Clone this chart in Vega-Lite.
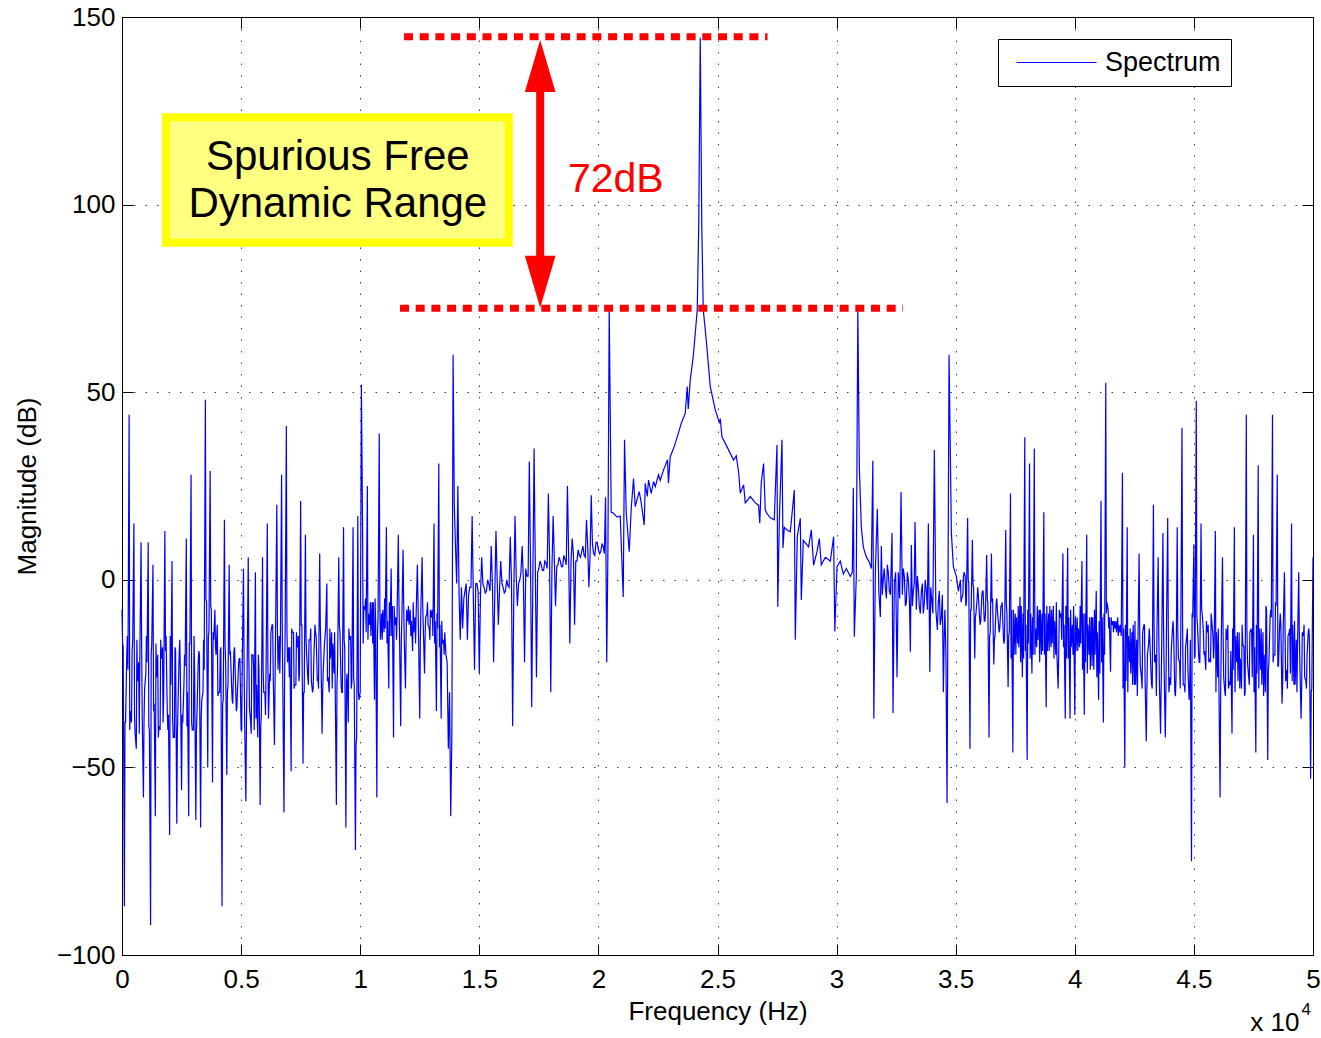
{
  "$schema": "https://vega.github.io/schema/vega-lite/v6.json",
  "width": 1191,
  "height": 938,
  "autosize": {"type": "none"},
  "padding": {"left": 122, "top": 17, "right": 8, "bottom": 83},
  "background": "#ffffff",
  "config": {
    "view": {"stroke": "#000000", "strokeWidth": 1},
    "font": "Liberation Sans",
    "axis": {
      "labelFont": "Liberation Sans", "labelFontSize": 26, "labelColor": "#000000",
      "titleFont": "Liberation Sans", "titleFontSize": 26, "titleFontWeight": "normal", "titleColor": "#000000",
      "domain": false, "tickColor": "#000000", "tickSize": -11, "tickWidth": 1,
      "gridColor": "#000000", "gridDash": [1.5, 10], "gridOpacity": 0.75, "gridWidth": 1
    }
  },
  "resolve": {"axis": {"x": "independent", "y": "independent"}},
  "layer": [
    {
      "layer": [
        {
          "data": {"values": [
{"f":0,"m":-8},{"f":100,"m":-87},{"f":200,"m":-20},{"f":300,"m":44},{"f":400,"m":-38},{"f":500,"m":15},{"f":600,"m":-45},{"f":700,"m":-22},{"f":800,"m":10},{"f":900,"m":-58},
{"f":1000,"m":-25},{"f":1100,"m":10},{"f":1200,"m":-92},{"f":1300,"m":4},{"f":1400,"m":-63},{"f":1500,"m":-20},{"f":1600,"m":-40},{"f":1700,"m":-18},{"f":1800,"m":13},{"f":1900,"m":-35},
{"f":2000,"m":-68},{"f":2100,"m":5},{"f":2200,"m":-42},{"f":2300,"m":-65},{"f":2400,"m":-20},{"f":2500,"m":-56},{"f":2600,"m":-28},{"f":2700,"m":11},{"f":2800,"m":-63},{"f":2900,"m":28},
{"f":3000,"m":-40},{"f":3100,"m":-64},{"f":3200,"m":-22},{"f":3300,"m":-66},{"f":3400,"m":-30},{"f":3500,"m":48},{"f":3600,"m":-50},{"f":3700,"m":29},{"f":3800,"m":-54},{"f":3900,"m":-8},
{"f":4000,"m":-12},{"f":4100,"m":-30},{"f":4200,"m":-87},{"f":4300,"m":16},{"f":4400,"m":-52},{"f":4500,"m":4},{"f":4600,"m":-28},{"f":4700,"m":-19},{"f":4800,"m":-35},{"f":4900,"m":-22},
{"f":5000,"m":-40},{"f":5100,"m":3},{"f":5200,"m":-59},{"f":5300,"m":6},{"f":5400,"m":-38},{"f":5500,"m":-20},{"f":5600,"m":2},{"f":5700,"m":-42},{"f":5800,"m":-60},{"f":5900,"m":6},
{"f":6000,"m":-30},{"f":6100,"m":15},{"f":6200,"m":-25},{"f":6300,"m":-12},{"f":6400,"m":-44},{"f":6500,"m":20},{"f":6600,"m":-15},{"f":6700,"m":28},{"f":6800,"m":-62},{"f":6900,"m":41},
{"f":7000,"m":-18},{"f":7100,"m":-51},{"f":7200,"m":-14},{"f":7300,"m":-28},{"f":7400,"m":-15},{"f":7500,"m":21},{"f":7600,"m":-49},{"f":7700,"m":12},{"f":7800,"m":-26},{"f":7900,"m":-16},
{"f":8000,"m":-30},{"f":8100,"m":-12},{"f":8200,"m":-27},{"f":8300,"m":7},{"f":8400,"m":-41},{"f":8500,"m":-17},{"f":8600,"m":-1},{"f":8700,"m":-30},{"f":8800,"m":-14},{"f":8900,"m":-25},
{"f":9000,"m":-60},{"f":9100,"m":6},{"f":9200,"m":-28},{"f":9300,"m":14},{"f":9400,"m":-66},{"f":9500,"m":-38},{"f":9600,"m":-15},{"f":9700,"m":14},{"f":9800,"m":-72},{"f":9900,"m":17},
{"f":10000,"m":-30},{"f":10050,"m":52},{"f":10100,"m":13},{"f":10200,"m":-8},{"f":10300,"m":25},{"f":10400,"m":-12},{"f":10500,"m":-6},{"f":10600,"m":-32},{"f":10700,"m":-58},{"f":10800,"m":39},{"f":10900,"m":-9},
{"f":11000,"m":-14},{"f":11100,"m":14},{"f":11200,"m":-29},{"f":11300,"m":3},{"f":11400,"m":-42},{"f":11500,"m":-10},{"f":11600,"m":12},{"f":11700,"m":-39},{"f":11800,"m":8},{"f":11900,"m":-29},
{"f":12000,"m":-11},{"f":12100,"m":-8},{"f":12200,"m":-19},{"f":12300,"m":-10},{"f":12400,"m":4},{"f":12500,"m":-37},{"f":12600,"m":6},{"f":12700,"m":-25},{"f":12800,"m":-9},{"f":12900,"m":-13},
{"f":13000,"m":-10},{"f":13100,"m":15},{"f":13200,"m":-35},{"f":13300,"m":31},{"f":13400,"m":-37},{"f":13500,"m":-16},{"f":13600,"m":-20},{"f":13700,"m":-45},{"f":13800,"m":-63},{"f":13900,"m":60},
{"f":14000,"m":9},{"f":14100,"m":25},{"f":14200,"m":-16},{"f":14300,"m":-13},{"f":14400,"m":-3},{"f":14500,"m":-16},{"f":14600,"m":-2},{"f":14700,"m":17},{"f":14800,"m":-24},{"f":14900,"m":-1},
{"f":15000,"m":-25},{"f":15100,"m":6},{"f":15200,"m":-2},{"f":15300,"m":-3},{"f":15400,"m":-1},{"f":15500,"m":9},{"f":15600,"m":-22},{"f":15700,"m":13},{"f":15800,"m":-12},{"f":15900,"m":5},
{"f":16000,"m":-2},{"f":16100,"m":-3},{"f":16200,"m":-1.5},{"f":16300,"m":11.5},{"f":16400,"m":-39},{"f":16500,"m":17},{"f":16600,"m":-7},{"f":16700,"m":0},{"f":16800,"m":9},{"f":16900,"m":-22},
{"f":17000,"m":1},{"f":17100,"m":31.5},{"f":17200,"m":-34},{"f":17300,"m":35},{"f":17400,"m":-26},{"f":17500,"m":3},{"f":17600,"m":4},{"f":17700,"m":2.5},{"f":17800,"m":4.5},{"f":17900,"m":23},
{"f":18000,"m":-30},{"f":18100,"m":17},{"f":18200,"m":-7},{"f":18300,"m":4},{"f":18400,"m":5},{"f":18500,"m":3.5},{"f":18600,"m":5.5},{"f":18700,"m":25},{"f":18800,"m":-17},{"f":18900,"m":11},
{"f":19000,"m":-12},{"f":19100,"m":5},{"f":19200,"m":6.5},{"f":19300,"m":7.5},{"f":19400,"m":6.5},{"f":19500,"m":16},{"f":19600,"m":-2},{"f":19700,"m":22.5},{"f":19800,"m":7},{"f":19900,"m":10},
{"f":20000,"m":8},{"f":20100,"m":7.5},{"f":20200,"m":9},{"f":20300,"m":22},{"f":20350,"m":-22},{"f":20400,"m":8},
{"f":20454,"m":72.2},{"f":20538,"m":18},{"f":20622,"m":17.8},{"f":20790,"m":16.7},{"f":20916,"m":17},{"f":21042,"m":-4.6},{"f":21097,"m":37.3},{"f":21168,"m":18},{"f":21294,"m":7.5},{"f":21378,"m":19},
{"f":21475,"m":27},{"f":21546,"m":19.5},{"f":21714,"m":23.5},{"f":21798,"m":20.5},{"f":21924,"m":14.6},{"f":21966,"m":25.7},{"f":22050,"m":22.2},{"f":22105,"m":26.6},{"f":22218,"m":23},{"f":22315,"m":26.2},
{"f":22386,"m":24.8},{"f":22525,"m":28},{"f":22596,"m":26.5},{"f":22735,"m":29.3},{"f":22903,"m":32},{"f":22940,"m":25.8},{"f":23016,"m":32.8},{"f":23184,"m":35.5},{"f":23310,"m":38.1},{"f":23478,"m":41.7},
{"f":23646,"m":44.4},{"f":23730,"m":51.5},{"f":23772,"m":45.5},{"f":23856,"m":53.3},{"f":23982,"m":59.5},{"f":24066,"m":65.7},{"f":24150,"m":72},{"f":24213,"m":95},{"f":24276,"m":144.5},{"f":24339,"m":95},
{"f":24402,"m":72},{"f":24528,"m":63.9},{"f":24696,"m":51.5},{"f":24906,"m":45.3},{"f":25087,"m":41.7},{"f":25116,"m":43},{"f":25187,"m":38.1},{"f":25397,"m":35.5},{"f":25675,"m":31.9},{"f":25788,"m":33},
{"f":25885,"m":28.8},{"f":25956,"m":23.1},{"f":26095,"m":25.3},{"f":26166,"m":20.5},{"f":26376,"m":22.2},{"f":26586,"m":20.5},{"f":26725,"m":19.9},{"f":26775,"m":15.1},{"f":26838,"m":25.9},{"f":26935,"m":31},
{"f":27006,"m":18.5},{"f":27077,"m":17.7},{"f":27216,"m":16.5},{"f":27384,"m":16},{"f":27497,"m":35.9},{"f":27531,"m":-7.2},{"f":27594,"m":15.5},{"f":27707,"m":37.3},{"f":27749,"m":8.5},{"f":27804,"m":14},
{"f":27917,"m":13.3},{"f":28056,"m":12.8},{"f":28224,"m":23.9},{"f":28266,"m":-16},{"f":28350,"m":11.5},{"f":28476,"m":16.4},{"f":28518,"m":-5.4},{"f":28602,"m":10.5},{"f":28825,"m":8.8},{"f":28938,"m":13.3},
{"f":29035,"m":3.9},{"f":29177,"m":7.5},{"f":29274,"m":11},{"f":29358,"m":4},{"f":29526,"m":6},{"f":29736,"m":5},{"f":29875,"m":11.5},{"f":29925,"m":-13.8},{"f":30017,"m":3.5},{"f":30156,"m":5},
{"f":30282,"m":1.5},{"f":30408,"m":3},{"f":30576,"m":0.9},{"f":30660,"m":2},{"f":30702,"m":24.5},{"f":30744,"m":-15.2},{"f":30828,"m":1},{"f":30891,"m":72.2},{"f":30954,"m":30},{"f":31038,"m":14},
{"f":31122,"m":8.7},{"f":31248,"m":6.1},{"f":31374,"m":4.7},{"f":31458,"m":3},{"f":31521,"m":31.7},{"f":31563,"m":-37},{"f":31626,"m":2},{"f":31710,"m":18.9},{"f":31773,"m":-3},{"f":31836,"m":-9.9},
{"f":31878,"m":9},{"f":31962,"m":0.5},{"f":32046,"m":-2},{"f":32130,"m":4},{"f":32214,"m":-3},{"f":32327,"m":12.5},{"f":32369,"m":-35.5},{"f":32424,"m":-1},{"f":32537,"m":-26},{"f":32592,"m":2},
{"f":32705,"m":23.4},{"f":32760,"m":-4},{"f":32844,"m":1},{"f":32928,"m":-6},{"f":33012,"m":0},{"f":33096,"m":-19.2},{"f":33138,"m":9.3},{"f":33222,"m":-3},{"f":33293,"m":15.4},{"f":33348,"m":-8},
{"f":33432,"m":-2},{"f":33516,"m":-9},{"f":33600,"m":-1},{"f":33684,"m":-6},{"f":33768,"m":-3},{"f":33852,"m":15},{"f":33915,"m":-24.6},{"f":33978,"m":-4},{"f":34104,"m":34.6},{"f":34167,"m":-8},
{"f":34230,"m":-13.4},{"f":34314,"m":-3},{"f":34398,"m":-10},{"f":34482,"m":-30},{"f":34545,"m":-8},{"f":34637,"m":-59.5},{"f":34721,"m":60},{"f":34818,"m":12.5},{"f":34902,"m":3.5},{"f":35028,"m":0.9},{"f":35112,"m":-3},
{"f":35200,"m":0},{"f":35300,"m":-4},{"f":35400,"m":1},{"f":35500,"m":16.5},{"f":35600,"m":-45},{"f":35700,"m":10.6},{"f":35800,"m":-21},{"f":35900,"m":-5},
{"f":36000,"m":-10},{"f":36100,"m":-4},{"f":36200,"m":-11},{"f":36300,"m":6.6},{"f":36400,"m":-42},{"f":36500,"m":7},{"f":36600,"m":-22.6},{"f":36700,"m":-6},{"f":36800,"m":-12},{"f":36900,"m":-7},
{"f":37000,"m":-15},{"f":37100,"m":13.3},{"f":37200,"m":-28.6},{"f":37300,"m":23},{"f":37400,"m":-46},{"f":37500,"m":-9},{"f":37600,"m":-17},{"f":37700,"m":-4.5},{"f":37800,"m":-26},{"f":37900,"m":38},
{"f":38000,"m":-48},{"f":38100,"m":31},{"f":38200,"m":-25},{"f":38300,"m":35},{"f":38400,"m":-18},{"f":38500,"m":-8},{"f":38600,"m":-20},{"f":38700,"m":18},{"f":38800,"m":-34},{"f":38900,"m":-9},
{"f":39000,"m":-18},{"f":39100,"m":-7},{"f":39200,"m":-20},{"f":39300,"m":-29},{"f":39400,"m":-10},{"f":39500,"m":7},{"f":39600,"m":-37},{"f":39700,"m":8.5},{"f":39800,"m":-37},{"f":39900,"m":-12},
{"f":40000,"m":-36},{"f":40100,"m":-10},{"f":40200,"m":-18},{"f":40300,"m":5},{"f":40400,"m":-36},{"f":40500,"m":12},{"f":40600,"m":-20},{"f":40700,"m":-10},{"f":40800,"m":-24},{"f":40900,"m":-3},
{"f":41000,"m":-32},{"f":41100,"m":21},{"f":41200,"m":-38},{"f":41300,"m":52.5},{"f":41400,"m":-8},{"f":41500,"m":-24.5},{"f":41600,"m":-11},{"f":41700,"m":-13},{"f":41800,"m":-10},{"f":41900,"m":-14},
{"f":42000,"m":28.5},{"f":42100,"m":-50},{"f":42200,"m":14},{"f":42300,"m":-22},{"f":42400,"m":-14},{"f":42500,"m":-28},{"f":42600,"m":-16},{"f":42700,"m":7},{"f":42800,"m":-26},{"f":42900,"m":-12},
{"f":43000,"m":-43},{"f":43100,"m":-17},{"f":43200,"m":-25},{"f":43300,"m":20},{"f":43400,"m":-20},{"f":43500,"m":6},{"f":43600,"m":-41},{"f":43700,"m":12.5},{"f":43800,"m":-42},{"f":43900,"m":16.5},
{"f":44000,"m":-26},{"f":44100,"m":-13},{"f":44200,"m":-30},{"f":44300,"m":14},{"f":44400,"m":-22},{"f":44500,"m":40.5},{"f":44600,"m":-28},{"f":44700,"m":-15},{"f":44800,"m":-32},{"f":44900,"m":-75},
{"f":45000,"m":9.5},{"f":45100,"m":47.7},{"f":45200,"m":-20},{"f":45300,"m":15},{"f":45400,"m":-14},{"f":45500,"m":-24},{"f":45600,"m":-12},{"f":45700,"m":-22},{"f":45800,"m":-15},{"f":45900,"m":13},
{"f":46000,"m":-26},{"f":46100,"m":-58},{"f":46200,"m":6},{"f":46300,"m":-30},{"f":46400,"m":-16},{"f":46500,"m":-27},{"f":46600,"m":-41},{"f":46700,"m":14},{"f":46800,"m":-22},{"f":46900,"m":-14},
{"f":47000,"m":-29},{"f":47100,"m":-18},{"f":47200,"m":44},{"f":47300,"m":-26},{"f":47400,"m":-13},{"f":47500,"m":12},{"f":47600,"m":-46},{"f":47700,"m":30.5},{"f":47800,"m":-24},{"f":47900,"m":-14},
{"f":48000,"m":-30},{"f":48100,"m":-48},{"f":48200,"m":-10},{"f":48300,"m":44},{"f":48400,"m":-20},{"f":48500,"m":28},{"f":48600,"m":-12},{"f":48700,"m":-33},{"f":48800,"m":2},{"f":48900,"m":-24},
{"f":49000,"m":-14},{"f":49100,"m":15},{"f":49200,"m":-28},{"f":49300,"m":-16},{"f":49400,"m":2},{"f":49500,"m":-37},{"f":49600,"m":-15},{"f":49700,"m":-27},{"f":49800,"m":-14},{"f":49900,"m":-53},
{"f":50000,"m":6},
{"f":50,"m":-18},{"f":150,"m":-38},{"f":250,"m":-24},{"f":350,"m":-35},{"f":450,"m":-16},{"f":550,"m":-41},{"f":650,"m":-27},{"f":750,"m":-20},{"f":850,"m":-37},{"f":950,"m":-29},
{"f":1050,"m":-22},{"f":1150,"m":-40},{"f":1250,"m":-17},{"f":1350,"m":-33},{"f":1450,"m":-26},{"f":1550,"m":-39},{"f":1650,"m":-21},{"f":1750,"m":-31},{"f":1850,"m":-15},{"f":1950,"m":-36},
{"f":2050,"m":-28},{"f":2150,"m":-42},{"f":2250,"m":-19},{"f":2350,"m":-34},{"f":2450,"m":-25},{"f":2550,"m":-38},{"f":2650,"m":-23},{"f":2750,"m":-30},{"f":2850,"m":-17},{"f":2950,"m":-40},
{"f":3050,"m":-26},{"f":3150,"m":-35},{"f":3250,"m":-20},{"f":3350,"m":-32},{"f":3450,"m":-24},
{"f":3550,"m":-6},{"f":3650,"m":-14},{"f":3750,"m":-8},{"f":3850,"m":-16},
{"f":3950,"m":-20},{"f":4050,"m":-30},{"f":4150,"m":-18},{"f":4250,"m":-32},{"f":4350,"m":-22},{"f":4450,"m":-28},{"f":4550,"m":-19},{"f":4650,"m":-33},{"f":4750,"m":-24},{"f":4850,"m":-29},{"f":4950,"m":-21},
{"f":5050,"m":-22},{"f":5150,"m":-38},{"f":5250,"m":-26},{"f":5350,"m":-34},{"f":5450,"m":-20},{"f":5550,"m":-40},{"f":5650,"m":-28},{"f":5750,"m":-24},{"f":5850,"m":-36},{"f":5950,"m":-30},{"f":6050,"m":-23},{"f":6150,"m":-37},
{"f":6250,"m":-14},{"f":6350,"m":-26},{"f":6450,"m":-12},{"f":6550,"m":-24},{"f":6650,"m":-16},{"f":6750,"m":-28},{"f":6850,"m":-13},{"f":6950,"m":-22},{"f":7050,"m":-18},
{"f":7150,"m":-14},{"f":7250,"m":-28},{"f":7350,"m":-18},{"f":7450,"m":-25},{"f":7550,"m":-12},{"f":7650,"m":-30},{"f":7750,"m":-20},{"f":7850,"m":-16},{"f":7950,"m":-27},{"f":8050,"m":-22},
{"f":8150,"m":-15},{"f":8250,"m":-29},{"f":8350,"m":-19},{"f":8450,"m":-24},{"f":8550,"m":-13},{"f":8650,"m":-26},{"f":8750,"m":-21},{"f":8850,"m":-17},{"f":8950,"m":-28},{"f":9050,"m":-23},
{"f":9150,"m":-14},{"f":9250,"m":-30},{"f":9350,"m":-18},{"f":9450,"m":-25},{"f":9550,"m":-16},{"f":9650,"m":-27},
{"f":9750,"m":-28},{"f":9850,"m":-42},{"f":9950,"m":-32},
{"f":10150,"m":-7},{"f":10250,"m":-14},{"f":10350,"m":-9},{"f":10450,"m":-15},{"f":10550,"m":-6},{"f":10650,"m":-12},{"f":10750,"m":-10},{"f":10850,"m":-16},{"f":10950,"m":-8},{"f":11050,"m":-13},
{"f":11150,"m":-11},{"f":11250,"m":-15},{"f":11350,"m":-7},{"f":11450,"m":-12},{"f":11550,"m":-9},{"f":11650,"m":-14},{"f":11750,"m":-10},{"f":11850,"m":-16},{"f":11950,"m":-8},{"f":12050,"m":-12},
{"f":12150,"m":-11},{"f":12250,"m":-14},{"f":12350,"m":-9},{"f":12450,"m":-15},{"f":12550,"m":-7},{"f":12650,"m":-13},{"f":12750,"m":-10},{"f":12850,"m":-12},{"f":12950,"m":-8},{"f":13050,"m":-15},
{"f":13150,"m":-11},{"f":13250,"m":-13},{"f":13350,"m":-12},{"f":13450,"m":-17},{"f":13550,"m":-14},
{"f":13650,"m":-22},{"f":13750,"m":-30},{"f":13850,"m":-40},
{"f":13950,"m":20},{"f":14050,"m":-1},{"f":14150,"m":-4},{"f":14250,"m":-2},{"f":14350,"m":-5},{"f":14450,"m":-1},{"f":14550,"m":-4},{"f":14650,"m":-2},{"f":14750,"m":-5},{"f":14850,"m":-1},
{"f":14950,"m":-3},{"f":15050,"m":-4},{"f":15150,"m":-1},{"f":15250,"m":-3.5},{"f":15350,"m":0},{"f":15450,"m":-3},{"f":15550,"m":-1},{"f":15650,"m":-4},{"f":15750,"m":0},{"f":15850,"m":-2.5},
{"f":15950,"m":-1},{"f":16050,"m":-3.5},{"f":16150,"m":0},{"f":16250,"m":-2},{"f":16350,"m":0},{"f":16450,"m":-3},{"f":16550,"m":1},{"f":16650,"m":-1},{"f":16750,"m":2},{"f":16850,"m":0},
{"f":16950,"m":3},{"f":17050,"m":1},{"f":17150,"m":4},{"f":17250,"m":1.5},{"f":17350,"m":4.5},{"f":17450,"m":2},{"f":17550,"m":5},{"f":17650,"m":2.5},{"f":17750,"m":5},{"f":17850,"m":3},
{"f":17950,"m":6},{"f":18050,"m":3},{"f":18150,"m":5.5},{"f":18250,"m":3.5},{"f":18350,"m":6},{"f":18450,"m":3.5},{"f":18550,"m":6.5},{"f":18650,"m":4},{"f":18750,"m":7},{"f":18850,"m":4.5},
{"f":18950,"m":7},{"f":19050,"m":5},{"f":19150,"m":8},{"f":19250,"m":6},{"f":19350,"m":9},{"f":19450,"m":6},{"f":19550,"m":9},{"f":19650,"m":6.5},{"f":19750,"m":9.5},{"f":19850,"m":6.5},
{"f":19950,"m":10},{"f":20050,"m":7},{"f":20150,"m":9.5},{"f":20250,"m":7},
{"f":31920,"m":-4},{"f":32000,"m":3},{"f":32090,"m":-5},{"f":32170,"m":2},{"f":32260,"m":-4},{"f":32480,"m":2},{"f":32650,"m":-5},{"f":32800,"m":3},{"f":32890,"m":-7},{"f":32970,"m":2},
{"f":33060,"m":-6},{"f":33180,"m":-7},{"f":33260,"m":-1},{"f":33390,"m":1},{"f":33470,"m":-7},{"f":33560,"m":-3},{"f":33640,"m":-9},{"f":33720,"m":0},{"f":33810,"m":-8},{"f":33950,"m":-2},
{"f":34040,"m":-9},{"f":34270,"m":-6},{"f":34350,"m":-12},{"f":34440,"m":-4},{"f":34520,"m":-14},{"f":34590,"m":-20},
{"f":35250,"m":-5},{"f":35350,"m":2},{"f":35450,"m":-6},{"f":35550,"m":-1},{"f":35650,"m":-8},{"f":35750,"m":-2},{"f":35850,"m":-9},{"f":35950,"m":-4},{"f":36050,"m":-11},{"f":36150,"m":-3},{"f":36250,"m":-9},
{"f":36350,"m":-6},{"f":36450,"m":-14},{"f":36550,"m":-5},{"f":36650,"m":-15},{"f":36750,"m":-8},{"f":36850,"m":-13},{"f":36950,"m":-6},{"f":37050,"m":-16},{"f":37150,"m":-9},{"f":37250,"m":-14},
{"f":37350,"m":-8},{"f":37450,"m":-20},{"f":37550,"m":-10},{"f":37650,"m":-18},{"f":37750,"m":-7},{"f":37850,"m":-21},{"f":37950,"m":-12},{"f":38050,"m":-17},{"f":38150,"m":-9},{"f":38250,"m":-20},{"f":38350,"m":-13},{"f":38450,"m":-16},{"f":38550,"m":-8},{"f":38650,"m":-19},
{"f":38750,"m":-9},{"f":38850,"m":-19},{"f":38950,"m":-7},{"f":39050,"m":-17},{"f":39150,"m":-11},{"f":39250,"m":-20},{"f":39350,"m":-8},{"f":39450,"m":-16},{"f":39550,"m":-12},{"f":39650,"m":-21},{"f":39750,"m":-10},{"f":39850,"m":-18},{"f":39950,"m":-7},{"f":40050,"m":-19},{"f":40150,"m":-13},{"f":40250,"m":-17},
{"f":40350,"m":-9},{"f":40450,"m":-22},{"f":40550,"m":-12},{"f":40650,"m":-24},{"f":40750,"m":-10},{"f":40850,"m":-20},{"f":40950,"m":-14},{"f":41050,"m":-25},
{"f":41150,"m":-10},{"f":41250,"m":-20},
{"f":41350,"m":-6},{"f":41450,"m":-10},{"f":41550,"m":-12},{"f":41650,"m":-11},{"f":41750,"m":-14},{"f":41850,"m":-12},{"f":41950,"m":-15},
{"f":42050,"m":-13},{"f":42150,"m":-27},{"f":42250,"m":-15},{"f":42350,"m":-25},{"f":42450,"m":-12},{"f":42550,"m":-28},{"f":42650,"m":-18},{"f":42750,"m":-23},{"f":42850,"m":-14},{"f":42950,"m":-26},
{"f":43050,"m":-20},{"f":43150,"m":-16},{"f":43250,"m":-29},{"f":43350,"m":-22},{"f":43450,"m":-13},{"f":43550,"m":-27},{"f":43650,"m":-17},{"f":43750,"m":-24},{"f":43850,"m":-12},{"f":43950,"m":-30},
{"f":44050,"m":-19},{"f":44150,"m":-15},{"f":44250,"m":-26},{"f":44350,"m":-21},{"f":44450,"m":-14},{"f":44550,"m":-28},{"f":44650,"m":-18},{"f":44750,"m":-24},{"f":44850,"m":-16},
{"f":44950,"m":-10},{"f":45050,"m":-20},{"f":45150,"m":-12},{"f":45250,"m":-22},{"f":45350,"m":-9},{"f":45450,"m":-19},{"f":45550,"m":-14},{"f":45650,"m":-21},{"f":45750,"m":-11},{"f":45850,"m":-18},
{"f":45950,"m":-14},{"f":46050,"m":-28},{"f":46150,"m":-16},{"f":46250,"m":-26},{"f":46350,"m":-13},{"f":46450,"m":-29},{"f":46550,"m":-19},{"f":46650,"m":-24},{"f":46750,"m":-15},{"f":46850,"m":-27},
{"f":46950,"m":-21},{"f":47050,"m":-17},{"f":47150,"m":-30},{"f":47250,"m":-22},{"f":47350,"m":-14},{"f":47450,"m":-26},{"f":47550,"m":-18},{"f":47650,"m":-25},{"f":47750,"m":-13},{"f":47850,"m":-28},{"f":47950,"m":-20},
{"f":48050,"m":-8},{"f":48150,"m":-22},{"f":48250,"m":-10},{"f":48350,"m":-20},{"f":48450,"m":-7},{"f":48550,"m":-23},{"f":48650,"m":-12},
{"f":48750,"m":-13},{"f":48850,"m":-27},{"f":48950,"m":-15},{"f":49050,"m":-25},{"f":49150,"m":-12},{"f":49250,"m":-28},{"f":49350,"m":-18},{"f":49450,"m":-23},{"f":49550,"m":-14},{"f":49650,"m":-26},{"f":49750,"m":-20},{"f":49850,"m":-16},{"f":49950,"m":-29},
{"f":25,"m":-17},{"f":125,"m":-38},{"f":225,"m":-15},{"f":325,"m":-40},{"f":425,"m":-19},{"f":525,"m":-36},{"f":625,"m":-16},{"f":725,"m":-41},{"f":825,"m":-18},{"f":925,"m":-37},
{"f":1025,"m":-15},{"f":1125,"m":-39},{"f":1225,"m":-20},{"f":1325,"m":-35},{"f":1425,"m":-17},{"f":1525,"m":-42},{"f":1625,"m":-16},{"f":1725,"m":-38},{"f":1825,"m":-19},{"f":1925,"m":-40},
{"f":2025,"m":-15},{"f":2125,"m":-37},{"f":2225,"m":-18},{"f":2325,"m":-41},{"f":2425,"m":-16},{"f":2525,"m":-36},{"f":2625,"m":-20},{"f":2725,"m":-39},{"f":2825,"m":-17},{"f":2925,"m":-38},
{"f":3025,"m":-15},{"f":3125,"m":-40},{"f":3225,"m":-19},{"f":3325,"m":-37},{"f":3425,"m":-16},
{"f":3525,"m":-5},{"f":3625,"m":-15},{"f":3725,"m":-7},{"f":3825,"m":-14},
{"f":3925,"m":-18},{"f":4025,"m":-31},{"f":4125,"m":-19},{"f":4225,"m":-33},{"f":4325,"m":-17},{"f":4425,"m":-30},{"f":4525,"m":-20},{"f":4625,"m":-32},{"f":4725,"m":-18},{"f":4825,"m":-34},{"f":4925,"m":-21},
{"f":5025,"m":-40},{"f":5125,"m":-22},{"f":5225,"m":-38},{"f":5325,"m":-21},{"f":5425,"m":-41},{"f":5525,"m":-23},{"f":5625,"m":-37},{"f":5725,"m":-20},{"f":5825,"m":-39},{"f":5925,"m":-24},{"f":6025,"m":-36},{"f":6125,"m":-22},
{"f":6225,"m":-27},{"f":6325,"m":-12},{"f":6425,"m":-28},{"f":6525,"m":-13},{"f":6625,"m":-25},{"f":6725,"m":-11},{"f":6825,"m":-27},{"f":6925,"m":-14},{"f":7025,"m":-26},
{"f":7125,"m":-13},{"f":7225,"m":-29},{"f":7325,"m":-14},{"f":7425,"m":-27},{"f":7525,"m":-12},{"f":7625,"m":-30},{"f":7725,"m":-15},{"f":7825,"m":-28},{"f":7925,"m":-13},{"f":8025,"m":-29},
{"f":8125,"m":-14},{"f":8225,"m":-26},{"f":8325,"m":-12},{"f":8425,"m":-30},{"f":8525,"m":-15},{"f":8625,"m":-27},{"f":8725,"m":-13},{"f":8825,"m":-29},{"f":8925,"m":-14},{"f":9025,"m":-28},
{"f":9125,"m":-12},{"f":9225,"m":-30},{"f":9325,"m":-16},{"f":9425,"m":-27},{"f":9525,"m":-13},{"f":9625,"m":-29},
{"f":9725,"m":-26},{"f":9825,"m":-44},{"f":9925,"m":-30},
{"f":10125,"m":-17},{"f":10225,"m":-5},{"f":10325,"m":-16},{"f":10425,"m":-6},{"f":10525,"m":-17},{"f":10625,"m":-5},{"f":10725,"m":-15},{"f":10825,"m":-7},{"f":10925,"m":-16},{"f":11025,"m":-5},
{"f":11125,"m":-17},{"f":11225,"m":-6},{"f":11325,"m":-15},{"f":11425,"m":-7},{"f":11525,"m":-16},{"f":11625,"m":-5},{"f":11725,"m":-17},{"f":11825,"m":-6},{"f":11925,"m":-16},{"f":12025,"m":-7},
{"f":12125,"m":-15},{"f":12225,"m":-6},{"f":12325,"m":-17},{"f":12425,"m":-5},{"f":12525,"m":-16},{"f":12625,"m":-7},{"f":12725,"m":-15},{"f":12825,"m":-6},{"f":12925,"m":-16},{"f":13025,"m":-8},
{"f":13125,"m":-17},{"f":13225,"m":-9},{"f":13325,"m":-18},{"f":13425,"m":-11},{"f":13525,"m":-20},
{"f":35225,"m":-6},{"f":35325,"m":1},{"f":35425,"m":-7},{"f":35525,"m":0},{"f":35625,"m":-8},{"f":35725,"m":-1},{"f":35825,"m":-10},{"f":35925,"m":-2},{"f":36025,"m":-12},{"f":36125,"m":-3},{"f":36225,"m":-11},
{"f":36325,"m":-5},{"f":36425,"m":-15},{"f":36525,"m":-6},{"f":36625,"m":-16},{"f":36725,"m":-5},{"f":36825,"m":-14},{"f":36925,"m":-7},{"f":37025,"m":-17},{"f":37125,"m":-6},{"f":37225,"m":-15},
{"f":37325,"m":-21},{"f":37425,"m":-8},{"f":37525,"m":-20},{"f":37625,"m":-7},{"f":37725,"m":-22},{"f":37825,"m":-9},{"f":37925,"m":-19},{"f":38025,"m":-8},{"f":38125,"m":-21},{"f":38225,"m":-10},{"f":38325,"m":-20},{"f":38425,"m":-7},{"f":38525,"m":-22},{"f":38625,"m":-9},
{"f":38725,"m":-20},{"f":38825,"m":-7},{"f":38925,"m":-19},{"f":39025,"m":-8},{"f":39125,"m":-21},{"f":39225,"m":-6},{"f":39325,"m":-20},{"f":39425,"m":-9},{"f":39525,"m":-18},{"f":39625,"m":-7},{"f":39725,"m":-21},{"f":39825,"m":-8},{"f":39925,"m":-20},{"f":40025,"m":-10},{"f":40125,"m":-19},{"f":40225,"m":-7},
{"f":40325,"m":-24},{"f":40425,"m":-9},{"f":40525,"m":-25},{"f":40625,"m":-10},{"f":40725,"m":-23},{"f":40825,"m":-8},{"f":40925,"m":-26},{"f":41025,"m":-11},{"f":41125,"m":-22},{"f":41225,"m":-9},
{"f":41325,"m":-9},{"f":41425,"m":-13},{"f":41525,"m":-10},{"f":41625,"m":-14},{"f":41725,"m":-11},{"f":41825,"m":-15},{"f":41925,"m":-12},
{"f":42025,"m":-29},{"f":42125,"m":-12},{"f":42225,"m":-30},{"f":42325,"m":-13},{"f":42425,"m":-28},{"f":42525,"m":-11},{"f":42625,"m":-31},{"f":42725,"m":-14},{"f":42825,"m":-29},{"f":42925,"m":-12},
{"f":43025,"m":-30},{"f":43125,"m":-13},{"f":43225,"m":-28},{"f":43325,"m":-11},{"f":43425,"m":-31},{"f":43525,"m":-14},{"f":43625,"m":-29},{"f":43725,"m":-12},{"f":43825,"m":-30},{"f":43925,"m":-13},
{"f":44025,"m":-28},{"f":44125,"m":-11},{"f":44225,"m":-31},{"f":44325,"m":-14},{"f":44425,"m":-29},{"f":44525,"m":-12},{"f":44625,"m":-30},{"f":44725,"m":-13},{"f":44825,"m":-28},
{"f":44925,"m":-9},{"f":45025,"m":-21},{"f":45125,"m":-10},{"f":45225,"m":-22},{"f":45325,"m":-8},{"f":45425,"m":-20},{"f":45525,"m":-11},{"f":45625,"m":-22},{"f":45725,"m":-9},{"f":45825,"m":-21},
{"f":45925,"m":-30},{"f":46025,"m":-13},{"f":46125,"m":-29},{"f":46225,"m":-14},{"f":46325,"m":-31},{"f":46425,"m":-12},{"f":46525,"m":-28},{"f":46625,"m":-13},{"f":46725,"m":-30},{"f":46825,"m":-14},
{"f":46925,"m":-29},{"f":47025,"m":-12},{"f":47125,"m":-31},{"f":47225,"m":-13},{"f":47325,"m":-28},{"f":47425,"m":-14},{"f":47525,"m":-30},{"f":47625,"m":-12},{"f":47725,"m":-29},{"f":47825,"m":-13},{"f":47925,"m":-31},
{"f":48025,"m":-7},{"f":48125,"m":-24},{"f":48225,"m":-8},{"f":48325,"m":-22},{"f":48425,"m":-6},{"f":48525,"m":-23},{"f":48625,"m":-9},
{"f":48725,"m":-28},{"f":48825,"m":-12},{"f":48925,"m":-29},{"f":49025,"m":-13},{"f":49125,"m":-27},{"f":49225,"m":-11},{"f":49325,"m":-30},{"f":49425,"m":-14},{"f":49525,"m":-28},{"f":49625,"m":-12},{"f":49725,"m":-29},{"f":49825,"m":-13},{"f":49925,"m":-30}
          ]},
          "mark": {"type": "line", "strokeWidth": 1.2, "interpolate": "linear"},
          "encoding": {
            "x": {"field": "f", "type": "quantitative", "scale": {"domain": [0, 50000], "nice": false, "zero": false},
                  "axis": {"orient": "bottom", "values": [0,5000,10000,15000,20000,25000,30000,35000,40000,45000,50000],
                           "labelExpr": "'' + (datum.value / 10000)", "labelPadding": 22, "labelFlush": false, "labelOverlap": false,
                           "grid": true, "title": "Frequency (Hz)", "titlePadding": 6}},
            "y": {"field": "m", "type": "quantitative", "scale": {"domain": [-100, 150], "nice": false, "zero": false},
                  "axis": {"orient": "left", "values": [-100,-50,0,50,100,150], "labelPadding": 18, "labelFlush": false, "labelOverlap": false,
                           "grid": true, "title": "Magnitude (dB)", "titlePadding": 16}},
            "stroke": {"datum": "Spectrum", "type": "nominal", "scale": {"range": ["#0000ff"]},
                       "legend": {"orient": "none", "legendX": 876, "legendY": 22, "title": null,
                                  "strokeColor": "#000000", "fillColor": "#ffffff", "padding": 10,
                                  "symbolType": "M-4,0L4,0", "symbolSize": 400, "symbolStrokeWidth": 1,
                                  "symbolStrokeColor": "#0000ff", "symbolFillColor": "transparent", "symbolOffset": 35,
                                  "labelFont": "Liberation Sans", "labelFontSize": 27, "labelColor": "#000000", "labelOffset": 35, "labelLimit": 300}}
          }
        },
        {
          "data": {"values": [{}]},
          "mark": {"type": "rect", "fill": "#ffff80", "stroke": "#ffff00", "strokeWidth": 8},
          "encoding": {
            "x": {"datum": 1848, "type": "quantitative", "scale": {"domain": [0, 50000], "nice": false, "zero": false}},
            "x2": {"datum": 16241},
            "y": {"datum": 123.27, "type": "quantitative", "scale": {"domain": [-100, 150], "nice": false, "zero": false}},
            "y2": {"datum": 89.85}
          }
        },
        {
          "data": {"values": [{}]},
          "mark": {"type": "text", "font": "Liberation Sans", "fontSize": 42, "color": "#000000", "align": "center", "baseline": "alphabetic", "lineHeight": 47},
          "encoding": {
            "x": {"datum": 9060, "type": "quantitative", "scale": {"domain": [0, 50000], "nice": false, "zero": false}},
            "y": {"datum": 109.2, "type": "quantitative", "scale": {"domain": [-100, 150], "nice": false, "zero": false}},
            "text": {"value": ["Spurious Free", "Dynamic Range"]}
          }
        },
        {
          "data": {"values": [{}]},
          "mark": {"type": "rule", "color": "#ff0000", "strokeWidth": 7, "strokeDash": [9, 6.7]},
          "encoding": {
            "x": {"datum": 11839, "type": "quantitative", "scale": {"domain": [0, 50000], "nice": false, "zero": false}},
            "x2": {"datum": 27100},
            "y": {"datum": 144.75, "type": "quantitative", "scale": {"domain": [-100, 150], "nice": false, "zero": false}}
          }
        },
        {
          "data": {"values": [{}]},
          "mark": {"type": "rule", "color": "#ff0000", "strokeWidth": 7, "strokeDash": [9, 6.7]},
          "encoding": {
            "x": {"datum": 11671, "type": "quantitative", "scale": {"domain": [0, 50000], "nice": false, "zero": false}},
            "x2": {"datum": 32788},
            "y": {"datum": 72.4, "type": "quantitative", "scale": {"domain": [-100, 150], "nice": false, "zero": false}}
          }
        },
        {
          "data": {"values": [{}]},
          "mark": {"type": "rule", "color": "#ff0000", "strokeWidth": 8},
          "encoding": {
            "x": {"datum": 17556, "type": "quantitative", "scale": {"domain": [0, 50000], "nice": false, "zero": false}},
            "y": {"datum": 130.5, "type": "quantitative", "scale": {"domain": [-100, 150], "nice": false, "zero": false}},
            "y2": {"datum": 86}
          }
        },
        {
          "data": {"values": [{}]},
          "mark": {"type": "point", "shape": "M0,-1L0.59,1L-0.59,1Z", "size": 2704, "filled": true, "color": "#ff0000", "opacity": 1, "strokeWidth": 0},
          "encoding": {
            "x": {"datum": 17556, "type": "quantitative", "scale": {"domain": [0, 50000], "nice": false, "zero": false}},
            "y": {"datum": 136.94, "type": "quantitative", "scale": {"domain": [-100, 150], "nice": false, "zero": false}}
          }
        },
        {
          "data": {"values": [{}]},
          "mark": {"type": "point", "shape": "M0,1L0.59,-1L-0.59,-1Z", "size": 2704, "filled": true, "color": "#ff0000", "opacity": 1, "strokeWidth": 0},
          "encoding": {
            "x": {"datum": 17556, "type": "quantitative", "scale": {"domain": [0, 50000], "nice": false, "zero": false}},
            "y": {"datum": 79.45, "type": "quantitative", "scale": {"domain": [-100, 150], "nice": false, "zero": false}}
          }
        },
        {
          "data": {"values": [{}]},
          "mark": {"type": "text", "font": "Liberation Sans", "fontSize": 41, "color": "#ff0000", "align": "center", "baseline": "alphabetic"},
          "encoding": {
            "x": {"datum": 20731, "type": "quantitative", "scale": {"domain": [0, 50000], "nice": false, "zero": false}},
            "y": {"datum": 103.4, "type": "quantitative", "scale": {"domain": [-100, 150], "nice": false, "zero": false}},
            "text": {"value": "72dB"}
          }
        },
        {
          "data": {"values": [{}]},
          "mark": {"type": "text", "font": "Liberation Sans", "fontSize": 26, "color": "#000000", "align": "right", "baseline": "alphabetic"},
          "encoding": {
            "x": {"datum": 49434, "type": "quantitative", "scale": {"domain": [0, 50000], "nice": false, "zero": false}},
            "y": {"datum": -120.3, "type": "quantitative", "scale": {"domain": [-100, 150], "nice": false, "zero": false}},
            "text": {"value": "x 10"}
          }
        },
        {
          "data": {"values": [{}]},
          "mark": {"type": "text", "font": "Liberation Sans", "fontSize": 17, "color": "#000000", "align": "left", "baseline": "alphabetic"},
          "encoding": {
            "x": {"datum": 49518, "type": "quantitative", "scale": {"domain": [0, 50000], "nice": false, "zero": false}},
            "y": {"datum": -115.9, "type": "quantitative", "scale": {"domain": [-100, 150], "nice": false, "zero": false}},
            "text": {"value": "4"}
          }
        }
      ]
    },
    {
      "data": {"values": [{}]},
      "mark": {"type": "point", "opacity": 0},
      "encoding": {
        "x": {"datum": 0, "type": "quantitative", "scale": {"domain": [0, 50000], "nice": false, "zero": false},
              "axis": {"orient": "top", "values": [0,5000,10000,15000,20000,25000,30000,35000,40000,45000,50000], "labels": false, "grid": false, "title": null}},
        "y": {"datum": 0, "type": "quantitative", "scale": {"domain": [-100, 150], "nice": false, "zero": false},
              "axis": {"orient": "right", "values": [-100,-50,0,50,100,150], "labels": false, "grid": false, "title": null}}
      }
    }
  ]
}
